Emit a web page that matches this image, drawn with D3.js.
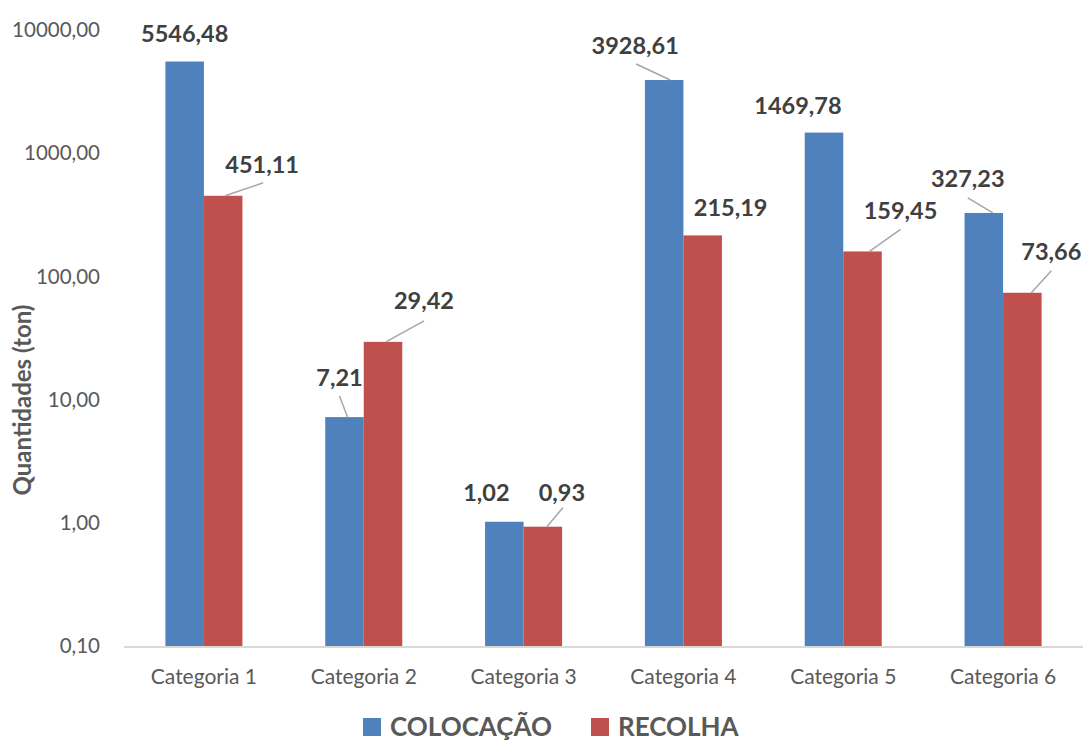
<!DOCTYPE html>
<html>
<head>
<meta charset="utf-8">
<script src="https://cdn.jsdelivr.net/npm/d3@7"></script>
<style>
  body { margin: 0; background: #fff; }
  text { font-family: Lato, "Open Sans", sans-serif; }
</style>
</head>
<body>
<div id="chart-area"></div>
<script>
const categories = ["Categoria 1", "Categoria 2", "Categoria 3", "Categoria 4", "Categoria 5", "Categoria 6"]
const seriesNames = ["COLOCAÇÃO", "RECOLHA"]
const colocacao = [5546.48, 7.21, 1.02, 3928.61, 1469.78, 327.23]
const recolha = [451.11, 29.42, 0.93, 215.19, 159.45, 73.66]
const yTicks = [0.1, 1, 10, 100, 1000, 10000]
const colors = ["#4f81bd", "#c0504d"]

// label placement relative to bar top: [dx, dy, leader] leader = [startDx, endDx, endDy]
const labelPos = [
  [[0, -20, null], [39, -23, [2, 1, 10]]],
  [[-5, -31, [3, 0, 10]], [41, -33, [3, 0, 12]]],
  [[-18, -21, null], [19, -26, [4, 1, 7]]],
  [[-29, -26, [6, 1, 10]], [28, -19, null]],
  [[-26, -19, null], [38, -32, [7, 0, 10]]],
  [[-16, -26, [9, 0, 11]], [29, -33, [9, 0, 11]]]
]

const W = 1083, H = 743
const MARGIN = { LEFT: 124, RIGHT: 0, TOP: 30, BOTTOM: 97 }
const fmt = v => d3.format(".2f")(v).replace(".", ",")

const svg = d3.select("#chart-area").append("svg")
  .attr("width", W)
  .attr("height", H)

const x = d3.scaleBand()
  .domain(categories)
  .range([MARGIN.LEFT, W - MARGIN.RIGHT])
  .paddingInner(0.518)
  .paddingOuter(0.259)

const xInner = d3.scaleBand()
  .domain(seriesNames)
  .range([0, x.bandwidth()])

const y = d3.scaleLog()
  .domain([0.1, 10000])
  .range([H - MARGIN.BOTTOM, MARGIN.TOP])

// y tick labels
svg.append("g")
  .selectAll("text")
  .data(yTicks)
  .enter().append("text")
    .attr("x", 100)
    .attr("y", d => y(d))
    .attr("dy", "0.35em")
    .attr("text-anchor", "end")
    .attr("font-size", 20.5)
    .attr("fill", "#595959")
    .text(d => fmt(d))

// y title
svg.append("text")
  .attr("transform", "translate(31, 400) rotate(-90)")
  .attr("text-anchor", "middle")
  .attr("font-size", 24)
  .attr("font-weight", "bold")
  .attr("fill", "#595959")
  .text("Quantidades (ton)")

// bars
const rows = categories.map((c, i) => ({ cat: c, i: i, vals: [colocacao[i], recolha[i]] }))

const groups = svg.selectAll("g.cat")
  .data(rows)
  .enter().append("g")
    .attr("class", "cat")
    .attr("transform", d => `translate(${x(d.cat)}, 0)`)

groups.selectAll("rect")
  .data(d => d.vals.map((v, s) => ({ v: v, s: s })))
  .enter().append("rect")
    .attr("x", d => xInner(seriesNames[d.s]))
    .attr("y", d => y(d.v))
    .attr("width", xInner.bandwidth())
    .attr("height", d => y(0.1) - y(d.v))
    .attr("fill", d => colors[d.s])

// x axis line
svg.append("line")
  .attr("x1", MARGIN.LEFT)
  .attr("x2", W)
  .attr("y1", y(0.1) + 1)
  .attr("y2", y(0.1) + 1)
  .attr("stroke", "#d9d9d9")
  .attr("stroke-width", 2)

// category labels
svg.append("g")
  .selectAll("text")
  .data(categories)
  .enter().append("text")
    .attr("x", d => x(d) + x.bandwidth() / 2)
    .attr("y", 684)
    .attr("text-anchor", "middle")
    .attr("font-size", 21)
    .attr("fill", "#595959")
    .text(d => d)

// data labels + leader lines
rows.forEach(r => {
  r.vals.forEach((v, s) => {
    const bx = x(r.cat) + xInner(seriesNames[s]) + xInner.bandwidth() / 2
    const by = y(v)
    const p = labelPos[r.i][s]
    const lx = bx + p[0], ly = by + p[1]
    if (p[2]) {
      svg.append("line")
        .attr("x1", bx + p[2][0])
        .attr("y1", by)
        .attr("x2", lx + p[2][1])
        .attr("y2", ly + p[2][2])
        .attr("stroke", "#a6a6a6")
        .attr("stroke-width", 1.5)
    }
    svg.append("text")
      .attr("x", lx)
      .attr("y", ly)
      .attr("text-anchor", "middle")
      .attr("font-size", 23.5)
      .attr("font-weight", "bold")
      .attr("fill", "#404040")
      .text(fmt(v))
  })
})

// legend
const legend = svg.append("g")
const legX = [363, 591]
seriesNames.forEach((n, s) => {
  legend.append("rect")
    .attr("x", legX[s])
    .attr("y", 718)
    .attr("width", 18)
    .attr("height", 18)
    .attr("fill", colors[s])
  legend.append("text")
    .attr("x", legX[s] + 27)
    .attr("y", 736)
    .attr("font-size", 26)
    .attr("font-weight", "bold")
    .attr("fill", "#595959")
    .text(n)
})
</script>
</body>
</html>
